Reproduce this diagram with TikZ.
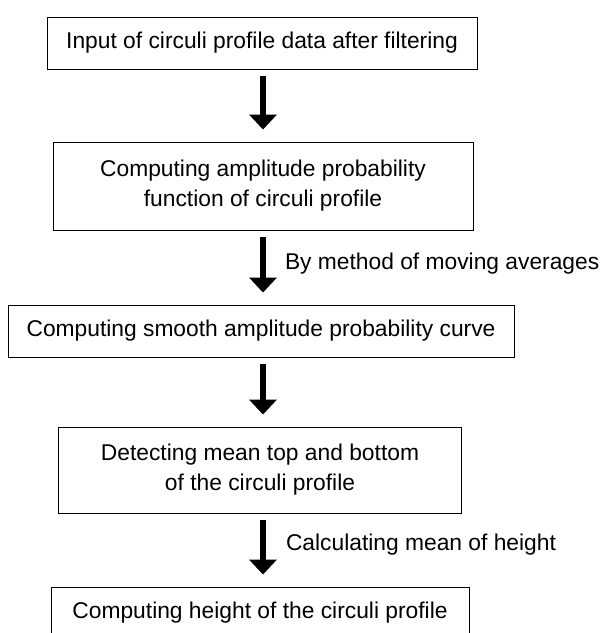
\documentclass[tikz,border=0pt]{standalone}
\usepackage{fontspec}
\setmainfont{Liberation Sans}
\usepackage{tikz}
\usetikzlibrary{positioning, arrows.meta}

\begin{document}
\begin{tikzpicture}[x=1pt, y=1pt,
            process/.style={rectangle, draw, line width=0.9pt, minimum height=52pt, align=center, inner sep=0pt, font=\fontsize{22.8}{30}\selectfont},
            flowarrow/.style={-{Triangle[width=27pt, length=15pt]}, line width=6pt, shorten <=7pt, shorten >=12pt},
            note/.style={font=\fontsize{22.8}{30}\selectfont, inner sep=0pt}
        ]
            \useasboundingbox (0,0) rectangle (600,-633);

            % Input
            \node[process, minimum width=430pt] (input) at (262, -43) {Input of circuli profile data after filtering};

            % Amplitude probability function
            \node[process, minimum width=420pt, minimum height=88pt] (apf) at (263, -186) {Computing amplitude probability\\function of circuli profile};

            % Smooth curve
            \node[process, minimum width=506pt] (smooth) at (261, -331) {Computing smooth amplitude probability curve};

            % Mean top and bottom
            \node[process, minimum width=403pt, minimum height=86pt] (topbot) at (260, -470) {Detecting mean top and bottom\\of the circuli profile};

            % Height
            \node[process, minimum width=418pt] (height) at (260, -613) {Computing height of the circuli profile};

            % Arrows
            \draw[flowarrow] (input.south -| 263,0) -- (apf.north -| 263,0);
            \draw[flowarrow] (apf.south -| 263,0) -- node[note, anchor=west, xshift=19pt, yshift=4pt] (movavg) {By method of moving averages} (smooth.north -| 263,0);
            \draw[flowarrow] (smooth.south -| 263,0) -- (topbot.north -| 263,0);
            \draw[flowarrow] (topbot.south -| 263,0) -- node[note, anchor=west, xshift=20pt, yshift=5pt] (meanh) {Calculating mean of height} (height.north -| 263,0);

        \end{tikzpicture}
\end{document}
